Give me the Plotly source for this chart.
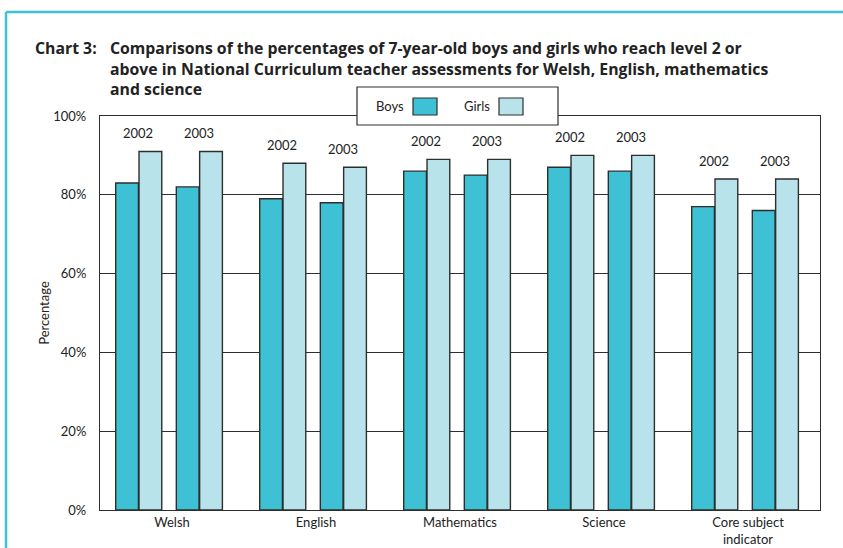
import plotly.graph_objects as go

# Subjects and percentage of pupils reaching level 2 or above
categories = ["Welsh", "English", "Mathematics", "Science", "Core subject<br>indicator"]
boys_2002 = [83, 79, 86, 87, 77]
girls_2002 = [91, 88, 89, 90, 84]
boys_2003 = [82, 78, 85, 86, 76]
girls_2003 = [91, 87, 89, 90, 84]
years = ["2002", "2003"]
y_ticks = [0, 20, 40, 60, 80, 100]
y_tick_text = ["0%", "20%", "40%", "60%", "80%", "100%"]
title_lines = [
    "Comparisons of the percentages of 7-year-old boys and girls who reach level 2 or",
    "above in National Curriculum teacher assessments for Welsh, English, mathematics",
    "and science",
]

BOYS = "#3ec1d4"
GIRLS = "#b8e3ea"
EDGE = "#2e2e2e"
FRAME = "#3ec1d4"
FONT = "Lato"
TITLE_FONT = "Open Sans"

BAR_W = 0.158
offsets = {"b02": -0.391, "g02": -0.229, "b03": 0.030, "g03": 0.192}

fig = go.Figure()
series = [
    ("Boys 2002", boys_2002, BOYS, offsets["b02"]),
    ("Girls 2002", girls_2002, GIRLS, offsets["g02"]),
    ("Boys 2003", boys_2003, BOYS, offsets["b03"]),
    ("Girls 2003", girls_2003, GIRLS, offsets["g03"]),
]
for name, vals, col, off in series:
    fig.add_trace(go.Bar(
        x=categories, y=vals, name=name, width=BAR_W, offset=off,
        marker=dict(color=col, line=dict(color=EDGE, width=1.4)),
        showlegend=False, hoverinfo="x+y+name",
    ))

# Year labels centred above each pair of bars
pair_centres = [offsets["b02"] + BAR_W, offsets["b03"] + BAR_W]
pairs = [(boys_2002, girls_2002), (boys_2003, girls_2003)]
for yr, (bv, gv), pc in zip(years, pairs, pair_centres):
    for i in range(len(categories)):
        fig.add_annotation(
            x=i + pc, y=max(bv[i], gv[i]), xref="x", yref="y",
            text=yr, showarrow=False, yanchor="bottom", yshift=8,
            font=dict(family=FONT, size=13, color="#222"),
        )

fig.update_layout(
    width=843, height=548,
    margin=dict(l=100, r=23, t=116, b=38),
    paper_bgcolor="white", plot_bgcolor="white",
    barmode="overlay",
    font=dict(family=FONT, size=13, color="#222"),
    xaxis=dict(
        type="category", range=[-0.5, 4.5], showgrid=False, automargin=False,
        showline=True, linecolor=EDGE, linewidth=1.2, mirror=True,
        ticks="", tickfont=dict(family=FONT, size=13, color="#222"),
    ),
    yaxis=dict(
        range=[0, 100], tickvals=y_ticks, ticktext=y_tick_text, automargin=False,
        showgrid=True, gridcolor=EDGE, gridwidth=1,
        showline=True, linecolor=EDGE, linewidth=1.2, mirror=True,
        ticks="", ticklabelstandoff=10, zeroline=False,
        tickfont=dict(family=FONT, size=13, color="#222"),
        title=dict(text="Percentage", font=dict(family=FONT, size=13, color="#222"), standoff=0),
    ),
)

# Pixel positions to paper coordinates for decorations
PX0, PW = 100, 720
PY0, PH = 510, 394


def px(x):
    return (x - PX0) / PW


def py(y):
    return (PY0 - y) / PH


# Title with hanging indent
fig.add_annotation(
    x=px(33), y=py(48), xref="paper", yref="paper", text="<b>Chart 3:</b>",
    showarrow=False, xanchor="left", yanchor="middle",
    font=dict(family=TITLE_FONT, size=15.8, color="#222"),
)
for k, line in enumerate(title_lines):
    fig.add_annotation(
        x=px(108), y=py(48 + 20.5 * k), xref="paper", yref="paper", text=f"<b>{line}</b>",
        showarrow=False, xanchor="left", yanchor="middle",
        font=dict(family=TITLE_FONT, size=15.8, color="#222"),
    )

# Teal page frame (top and left edges)
fig.add_shape(type="line", xref="paper", yref="paper", x0=px(6), x1=px(860), y0=py(12), y1=py(12),
              line=dict(color=FRAME, width=2.5), layer="above")
fig.add_shape(type="line", xref="paper", yref="paper", x0=px(6), x1=px(6), y0=py(12), y1=py(560),
              line=dict(color=FRAME, width=2.5), layer="above")

# Legend box: label followed by swatch
fig.add_shape(type="rect", xref="paper", yref="paper", x0=px(357), x1=px(558), y0=py(125), y1=py(87),
              fillcolor="white", line=dict(color=EDGE, width=1.2), layer="above")
fig.add_shape(type="rect", xref="paper", yref="paper", x0=px(413), x1=px(437), y0=py(115), y1=py(98),
              fillcolor=BOYS, line=dict(color=EDGE, width=1.2), layer="above")
fig.add_shape(type="rect", xref="paper", yref="paper", x0=px(499), x1=px(523), y0=py(115), y1=py(98),
              fillcolor=GIRLS, line=dict(color=EDGE, width=1.2), layer="above")
fig.add_annotation(x=px(406), y=py(106), xref="paper", yref="paper", text="Boys", showarrow=False,
                   xanchor="right", yanchor="middle", font=dict(family=FONT, size=13, color="#222"))
fig.add_annotation(x=px(492), y=py(106), xref="paper", yref="paper", text="Girls", showarrow=False,
                   xanchor="right", yanchor="middle", font=dict(family=FONT, size=13, color="#222"))

fig.write_html("out.html")
